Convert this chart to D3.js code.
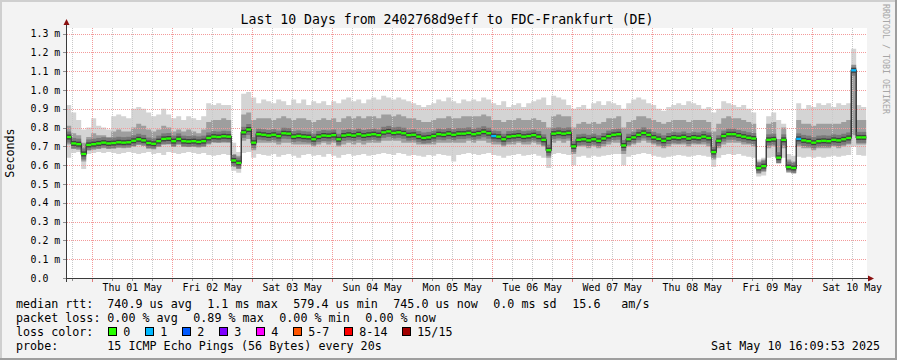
<!DOCTYPE html>
<html lang="en">
<head>
<meta charset="UTF-8">
<title>Last 10 Days from 2402768d9eff to FDC-Frankfurt (DE)</title>
<script src="https://d3js.org/d3.v7.min.js"></script>
<style>
  body { margin: 0; background: #f3f3f3; }
  svg text { font-family: "DejaVu Sans Mono", monospace; }
</style>
</head>
<body>
<div id="chart"></div>
<script>
// 160 samples of 1.5 h, last one ends Sat May 10 16:09:53 2025 (values in ms)
const startTime = "2025-04-30T16:09:53Z";
const endTime = "2025-05-10T16:09:53Z";
const stepMinutes = 90;

const median = [
  0.750, 0.716, 0.712, 0.660, 0.708, 0.712, 0.716, 0.720, 0.716, 0.718,
  0.722, 0.720, 0.722, 0.730, 0.738, 0.732, 0.718, 0.714, 0.728, 0.740,
  0.742, 0.728, 0.740, 0.728, 0.726, 0.728, 0.724, 0.728, 0.745, 0.752,
  0.750, 0.754, 0.752, 0.625, 0.612, 0.775, 0.790, 0.720, 0.765, 0.762,
  0.758, 0.762, 0.755, 0.770, 0.768, 0.752, 0.756, 0.752, 0.750, 0.738,
  0.752, 0.758, 0.756, 0.760, 0.738, 0.758, 0.762, 0.758, 0.765, 0.758,
  0.762, 0.765, 0.760, 0.775, 0.780, 0.772, 0.775, 0.770, 0.760, 0.762,
  0.752, 0.745, 0.748, 0.755, 0.765, 0.762, 0.768, 0.762, 0.768, 0.768,
  0.772, 0.765, 0.770, 0.778, 0.770, 0.755, 0.752, 0.738, 0.752, 0.755,
  0.758, 0.752, 0.755, 0.760, 0.752, 0.735, 0.680, 0.768, 0.772, 0.768,
  0.772, 0.700, 0.735, 0.738, 0.732, 0.738, 0.730, 0.742, 0.755, 0.762,
  0.765, 0.705, 0.738, 0.748, 0.762, 0.772, 0.762, 0.748, 0.740, 0.730,
  0.742, 0.748, 0.745, 0.750, 0.742, 0.748, 0.745, 0.752, 0.745, 0.670,
  0.730, 0.755, 0.765, 0.765, 0.758, 0.752, 0.746, 0.742, 0.585, 0.595,
  0.735, 0.738, 0.640, 0.735, 0.590, 0.585, 0.740, 0.732, 0.728, 0.720,
  0.728, 0.730, 0.728, 0.735, 0.732, 0.738, 0.745, 1.105, 0.748, 0.748
];

// slowest ping of the round
const smokeTop = [
  0.92, 0.88, 0.84, 0.79, 0.80, 0.85, 0.81, 0.80, 0.79, 0.86,
  0.87, 0.86, 0.85, 0.90, 0.91, 0.90, 0.88, 0.86, 0.87, 0.90,
  0.87, 0.85, 0.86, 0.84, 0.86, 0.85, 0.84, 0.86, 0.93, 0.92,
  0.93, 0.92, 0.92, 0.72, 0.67, 0.98, 0.99, 0.96, 0.93, 0.95,
  0.94, 0.93, 0.95, 0.94, 0.92, 0.95, 0.93, 0.95, 0.92, 0.94,
  0.93, 0.94, 0.92, 0.94, 0.93, 0.95, 0.96, 0.94, 0.95, 0.93,
  0.95, 0.96, 0.95, 0.97, 0.96, 0.95, 0.96, 0.95, 0.94, 0.93,
  0.92, 0.91, 0.92, 0.93, 0.95, 0.94, 0.96, 0.94, 0.93, 0.95,
  0.94, 0.95, 0.94, 0.96, 0.95, 0.93, 0.92, 0.94, 0.91, 0.92,
  0.93, 0.91, 0.93, 0.94, 0.95, 0.96, 0.92, 0.97, 0.96, 0.95,
  0.92, 0.90, 0.91, 0.92, 0.90, 0.93, 0.94, 0.92, 0.94, 0.93,
  0.92, 0.90, 0.93, 0.95, 0.96, 0.95, 0.93, 0.92, 0.90, 0.89,
  0.91, 0.92, 0.93, 0.92, 0.94, 0.93, 0.92, 0.90, 0.91, 0.88,
  0.90, 0.94, 0.93, 0.92, 0.91, 0.92, 0.90, 0.88, 0.63, 0.64,
  0.86, 0.88, 0.84, 0.82, 0.66, 0.65, 0.93, 0.90, 0.92, 0.91,
  0.93, 0.92, 0.93, 0.91, 0.93, 0.92, 0.93, 1.22, 0.92, 0.91
];

// upper edge of the dense part of the smoke
const smokeHigh = [
  0.81, 0.77, 0.76, 0.72, 0.75, 0.77, 0.76, 0.76, 0.75, 0.78,
  0.79, 0.78, 0.78, 0.80, 0.82, 0.81, 0.79, 0.78, 0.79, 0.81,
  0.80, 0.78, 0.79, 0.78, 0.79, 0.78, 0.77, 0.79, 0.83, 0.84,
  0.84, 0.85, 0.84, 0.66, 0.65, 0.87, 0.88, 0.84, 0.85, 0.85,
  0.85, 0.84, 0.85, 0.86, 0.85, 0.84, 0.85, 0.85, 0.84, 0.83,
  0.84, 0.85, 0.84, 0.85, 0.83, 0.85, 0.86, 0.85, 0.86, 0.85,
  0.86, 0.86, 0.85, 0.87, 0.87, 0.86, 0.87, 0.86, 0.85, 0.85,
  0.84, 0.83, 0.83, 0.84, 0.85, 0.85, 0.86, 0.85, 0.85, 0.86,
  0.86, 0.86, 0.86, 0.87, 0.86, 0.84, 0.84, 0.83, 0.84, 0.84,
  0.85, 0.84, 0.84, 0.85, 0.84, 0.83, 0.80, 0.86, 0.87, 0.86,
  0.86, 0.80, 0.82, 0.83, 0.82, 0.83, 0.82, 0.83, 0.85, 0.85,
  0.86, 0.80, 0.83, 0.84, 0.86, 0.86, 0.85, 0.84, 0.83, 0.82,
  0.83, 0.84, 0.84, 0.84, 0.83, 0.84, 0.84, 0.84, 0.83, 0.78,
  0.82, 0.85, 0.86, 0.85, 0.85, 0.84, 0.83, 0.82, 0.62, 0.63,
  0.82, 0.83, 0.74, 0.80, 0.63, 0.62, 0.84, 0.82, 0.82, 0.81,
  0.82, 0.82, 0.82, 0.82, 0.82, 0.83, 0.84, 1.12, 0.84, 0.84
];

// lower edge of the dense part of the smoke
const smokeLow = [
  0.71, 0.69, 0.69, 0.62, 0.68, 0.69, 0.69, 0.70, 0.69, 0.69,
  0.70, 0.70, 0.70, 0.70, 0.71, 0.71, 0.69, 0.69, 0.70, 0.71,
  0.71, 0.70, 0.71, 0.70, 0.70, 0.70, 0.70, 0.70, 0.71, 0.72,
  0.72, 0.72, 0.72, 0.59, 0.58, 0.73, 0.74, 0.68, 0.72, 0.72,
  0.72, 0.72, 0.71, 0.72, 0.72, 0.71, 0.71, 0.71, 0.71, 0.70,
  0.71, 0.72, 0.71, 0.72, 0.70, 0.71, 0.72, 0.71, 0.72, 0.71,
  0.72, 0.72, 0.72, 0.73, 0.73, 0.73, 0.73, 0.72, 0.72, 0.72,
  0.71, 0.71, 0.71, 0.71, 0.72, 0.72, 0.72, 0.72, 0.72, 0.72,
  0.73, 0.72, 0.73, 0.73, 0.72, 0.71, 0.71, 0.70, 0.71, 0.71,
  0.72, 0.71, 0.71, 0.72, 0.71, 0.70, 0.64, 0.72, 0.73, 0.72,
  0.73, 0.66, 0.70, 0.70, 0.69, 0.70, 0.69, 0.70, 0.71, 0.72,
  0.72, 0.66, 0.70, 0.71, 0.72, 0.73, 0.72, 0.71, 0.70, 0.69,
  0.70, 0.71, 0.71, 0.71, 0.70, 0.71, 0.71, 0.71, 0.70, 0.63,
  0.69, 0.71, 0.72, 0.72, 0.72, 0.71, 0.71, 0.70, 0.56, 0.57,
  0.69, 0.70, 0.61, 0.69, 0.57, 0.56, 0.70, 0.69, 0.69, 0.68,
  0.69, 0.69, 0.69, 0.70, 0.69, 0.70, 0.71, 0.76, 0.71, 0.71
];

// fastest ping of the round
const smokeBottom = [
  0.640, 0.665, 0.670, 0.580, 0.660, 0.665, 0.670, 0.665, 0.670, 0.665,
  0.660, 0.665, 0.670, 0.665, 0.660, 0.665, 0.670, 0.660, 0.665, 0.655,
  0.670, 0.665, 0.660, 0.665, 0.670, 0.665, 0.660, 0.665, 0.655, 0.650,
  0.655, 0.660, 0.655, 0.570, 0.560, 0.665, 0.670, 0.640, 0.660, 0.655,
  0.650, 0.660, 0.645, 0.655, 0.660, 0.650, 0.640, 0.655, 0.660, 0.650,
  0.655, 0.645, 0.660, 0.650, 0.640, 0.655, 0.660, 0.650, 0.655, 0.660,
  0.650, 0.655, 0.660, 0.665, 0.660, 0.655, 0.665, 0.660, 0.650, 0.655,
  0.650, 0.645, 0.655, 0.650, 0.660, 0.655, 0.650, 0.620, 0.655, 0.660,
  0.665, 0.660, 0.655, 0.660, 0.665, 0.655, 0.650, 0.640, 0.650, 0.655,
  0.660, 0.650, 0.655, 0.660, 0.650, 0.640, 0.585, 0.660, 0.665, 0.660,
  0.655, 0.600, 0.645, 0.650, 0.640, 0.650, 0.645, 0.650, 0.655, 0.660,
  0.660, 0.600, 0.645, 0.655, 0.660, 0.665, 0.660, 0.650, 0.645, 0.640,
  0.645, 0.650, 0.655, 0.650, 0.645, 0.650, 0.655, 0.650, 0.645, 0.590,
  0.640, 0.655, 0.660, 0.655, 0.660, 0.650, 0.645, 0.640, 0.540, 0.545,
  0.640, 0.645, 0.620, 0.640, 0.565, 0.560, 0.645, 0.640, 0.645, 0.640,
  0.645, 0.640, 0.645, 0.650, 0.645, 0.650, 0.655, 0.700, 0.655, 0.650
];

// lost pings out of 15
const loss = [
  0, 0, 0, 0, 0, 0, 0, 0, 0, 0,  0, 0, 0, 0, 0, 0, 0, 0, 0, 0,
  0, 0, 0, 0, 0, 0, 0, 0, 0, 0,  0, 0, 0, 0, 0, 0, 0, 0, 0, 0,
  0, 0, 0, 0, 0, 0, 0, 0, 0, 0,  0, 0, 0, 0, 0, 0, 0, 0, 0, 0,
  0, 0, 0, 0, 0, 0, 0, 0, 0, 0,  0, 0, 0, 0, 0, 0, 0, 0, 0, 0,
  0, 0, 0, 0, 0, 1, 0, 0, 0, 0,  0, 0, 0, 0, 0, 0, 0, 0, 0, 0,
  0, 0, 0, 0, 0, 0, 0, 0, 0, 0,  0, 0, 0, 0, 0, 0, 0, 0, 0, 0,
  0, 0, 0, 0, 0, 0, 0, 0, 0, 0,  0, 0, 0, 0, 0, 0, 0, 0, 0, 0,
  0, 0, 0, 0, 0, 0, 1, 0, 0, 0,  0, 0, 0, 0, 0, 0, 0, 1, 0, 0
];

const yTicks = [0, 0.1, 0.2, 0.3, 0.4, 0.5, 0.6, 0.7, 0.8, 0.9, 1.0, 1.1, 1.2, 1.3];
const dayLabels = ["Thu 01 May", "Fri 02 May", "Sat 03 May", "Sun 04 May", "Mon 05 May",
                   "Tue 06 May", "Wed 07 May", "Thu 08 May", "Fri 09 May", "Sat 10 May"];

const lossLabels = ["0", "1", "2", "3", "4", "5-7", "8-14", "15/15"];
const lossUpper = [0, 1, 2, 3, 4, 7, 14, 15];
const lossColors = ["#26ff00", "#00b8ff", "#0059ff", "#7e00ff", "#ff00ff", "#ff5500", "#ff0000", "#a10000"];

const rttStats = ["740.9 us avg", "1.1 ms max", "579.4 us min", "745.0 us now", "0.0 ms sd", "15.6", "am/s"];
const lossStats = ["0.00 % avg", "0.89 % max", "0.00 % min", "0.00 % now"];
const probeText = "15 ICMP Echo Pings (56 Bytes) every 20s";
const stampText = "Sat May 10 16:09:53 2025";

// ---------------------------------------------------------------
const W = 897, H = 360;
const plotL = 66.2, plotR = 866.2, plotTop = 28, plotBottom = 278;
const px = v => Math.round(v) + 0.5;

const t0 = d3.utcParse("%Y-%m-%dT%H:%M:%SZ")(startTime);
const t1 = d3.utcParse("%Y-%m-%dT%H:%M:%SZ")(endTime);

const x = d3.scaleUtc().domain([t0, t1]).range([plotL, plotR]);
const y = d3.scaleLinear().domain([0, 1.33]).range([plotBottom, plotTop]);

const rows = median.map((m, i) => ({
  t: d3.utcMinute.offset(t0, i * stepMinutes),
  t2: d3.utcMinute.offset(t0, (i + 1) * stepMinutes),
  med: m, top: smokeTop[i], hi: smokeHigh[i], lo: smokeLow[i], bot: smokeBottom[i], loss: loss[i]
}));
// closing point for the step curves
const stepRows = rows.concat([Object.assign({}, rows[rows.length - 1], {t: t1})]);

const svg = d3.select('#chart').append('svg')
  .attr('width', W).attr('height', H);

// background + frame
svg.append('rect').attr('width', W).attr('height', H).attr('fill', '#f3f3f3');
svg.append('path').attr('d', `M1,${H} V1 H${W}`).attr('fill', 'none').attr('stroke', '#cfcfcf').attr('stroke-width', 2);
svg.append('path').attr('d', `M0,${H - 1} H${W - 1} V0`).attr('fill', 'none').attr('stroke', '#9e9e9e').attr('stroke-width', 2);

svg.append('rect')
  .attr('x', 67).attr('y', plotTop)
  .attr('width', 800).attr('height', plotBottom - plotTop)
  .attr('fill', '#ffffff');

// smoke
const band = (a, b) => d3.area()
  .x(d => x(d.t)).y0(d => y(d[a])).y1(d => y(d[b]))
  .curve(d3.curveStepAfter);

svg.append('path').datum(stepRows).attr('d', band('bot', 'top')).attr('fill', '#d4d4d4');
svg.append('path').datum(stepRows).attr('d', band('lo', 'hi')).attr('fill', '#9e9e9e');

// grid
const minorTimes = d3.utcHour.every(6).range(t0, t1).filter(t => t.getUTCHours() !== 0);
const majorTimes = d3.utcDay.range(d3.utcDay.ceil(t0), t1);

const grid = svg.append('g').attr('stroke-width', 1).attr('stroke-dasharray', '1,1');
grid.selectAll('.minor').data(minorTimes).enter().append('line')
  .attr('x1', d => px(x(d))).attr('x2', d => px(x(d)))
  .attr('y1', plotTop).attr('y2', plotBottom)
  .attr('stroke', '#c8c8c8');
grid.selectAll('.major').data(majorTimes).enter().append('line')
  .attr('x1', d => px(x(d))).attr('x2', d => px(x(d)))
  .attr('y1', plotTop).attr('y2', plotBottom)
  .attr('stroke', '#f39a9a');
grid.selectAll('.hgrid').data(yTicks.slice(1)).enter().append('line')
  .attr('x1', 67).attr('x2', 867)
  .attr('y1', d => px(y(d))).attr('y2', d => px(y(d)))
  .attr('stroke', '#f39a9a');

// median: black steps, dark core per sample, then loss-coloured segments
const medLine = d3.line().x(d => x(d.t)).y(d => y(d.med)).curve(d3.curveStepAfter);
svg.append('path').datum(stepRows).attr('d', medLine)
  .attr('fill', 'none').attr('stroke', '#1a1a1a').attr('stroke-width', 1.2);

const segs = (w, col, op) => svg.append('g').selectAll('line').data(rows).enter().append('line')
  .attr('x1', d => x(d.t)).attr('x2', d => x(d.t2))
  .attr('y1', d => y(d.med)).attr('y2', d => y(d.med))
  .attr('stroke', col).attr('stroke-width', w).attr('stroke-opacity', op);

segs(11, '#606060', 0.6);
segs(5, '#3a3a3a', 0.9);
const lossIndex = l => lossUpper.findIndex(u => l <= u);
segs(2.3, d => lossColors[lossIndex(d.loss)], 1);

// axes
const axisColor = '#3a3a3a';
svg.append('line').attr('x1', 66.5).attr('x2', 66.5).attr('y1', 24).attr('y2', 282)
  .attr('stroke', axisColor);
svg.append('line').attr('x1', 63).attr('x2', 869).attr('y1', 278.5).attr('y2', 278.5)
  .attr('stroke', axisColor);
svg.append('path').attr('d', 'M66.5,19 L69.5,25 L63.5,25 Z').attr('fill', '#8a1010');
svg.append('path').attr('d', 'M874,278.5 L868,275.5 L868,281.5 Z').attr('fill', '#8a1010');

// x ticks
svg.append('g').selectAll('line').data(minorTimes).enter().append('line')
  .attr('x1', d => px(x(d))).attr('x2', d => px(x(d)))
  .attr('y1', 279).attr('y2', 281).attr('stroke', '#909090');
svg.append('g').selectAll('line').data(majorTimes).enter().append('line')
  .attr('x1', d => px(x(d))).attr('x2', d => px(x(d)))
  .attr('y1', 279).attr('y2', 282).attr('stroke', '#e07a7a');

// y ticks + labels
svg.append('g').selectAll('line').data(yTicks).enter().append('line')
  .attr('x1', 63).attr('x2', 66)
  .attr('y1', d => px(y(d))).attr('y2', d => px(y(d)))
  .attr('stroke', '#909090');
svg.append('g').selectAll('text').data(yTicks).enter().append('text')
  .attr('x', 30.5).attr('y', d => y(d) + 3.6)
  .attr('font-size', '9.9px').attr('fill', '#000')
  .text(d => d === 0 ? '0.0' : d3.format('.1f')(d) + ' m');

// day labels at noon
svg.append('g').selectAll('text').data(dayLabels).enter().append('text')
  .attr('x', (d, i) => x(d3.utcHour.offset(majorTimes[i], 12)))
  .attr('y', 291)
  .attr('text-anchor', 'middle')
  .attr('font-size', '9.9px').attr('fill', '#000')
  .text(d => d);

// title and side texts
svg.append('text').attr('x', 447).attr('y', 24).attr('text-anchor', 'middle')
  .attr('font-size', '13.2px').attr('fill', '#000')
  .text('Last 10 Days from 2402768d9eff to FDC-Frankfurt (DE)');

svg.append('text').attr('transform', 'translate(14,153) rotate(-90)')
  .attr('text-anchor', 'middle').attr('font-size', '11.7px').attr('fill', '#000')
  .text('Seconds');

svg.append('text').attr('transform', 'translate(882.5,4) rotate(90)')
  .attr('font-size', '8.3px').attr('fill', '#a6a6a6')
  .text('RRDTOOL / TOBI OETIKER');

// legend
const legend = svg.append('g').attr('font-size', '11.7px').attr('fill', '#000');
const rowY = [308, 322, 335.8, 349.7];
const rttX = [107.3, 207.3, 293.3, 393.3, 493.3, 572.3, 621.3];
const lossX = [107.3, 193.3, 279.3, 365.3];

legend.append('text').attr('x', 16).attr('y', rowY[0]).text('median rtt:');
legend.selectAll('.rtt').data(rttStats).enter().append('text')
  .attr('x', (d, i) => rttX[i]).attr('y', rowY[0]).text(d => d);

legend.append('text').attr('x', 16).attr('y', rowY[1]).text('packet loss:');
legend.selectAll('.pl').data(lossStats).enter().append('text')
  .attr('x', (d, i) => lossX[i]).attr('y', rowY[1]).text(d => d);

legend.append('text').attr('x', 16).attr('y', rowY[2]).text('loss color:');
let bx = 108.3;
lossLabels.forEach((lab, i) => {
  legend.append('rect')
    .attr('x', Math.round(bx) + 0.5).attr('y', 327.5)
    .attr('width', 8).attr('height', 8)
    .attr('fill', lossColors[i]).attr('stroke', '#000').attr('stroke-width', 1);
  legend.append('text').attr('x', bx + 15).attr('y', rowY[2]).text(lab);
  bx += 30 + lab.length * 7;
});

legend.append('text').attr('x', 16).attr('y', rowY[3]).text('probe:');
legend.append('text').attr('x', 107.3).attr('y', rowY[3]).text(probeText);
legend.append('text').attr('x', 880).attr('y', rowY[3]).attr('text-anchor', 'end').text(stampText);
</script>
</body>
</html>
